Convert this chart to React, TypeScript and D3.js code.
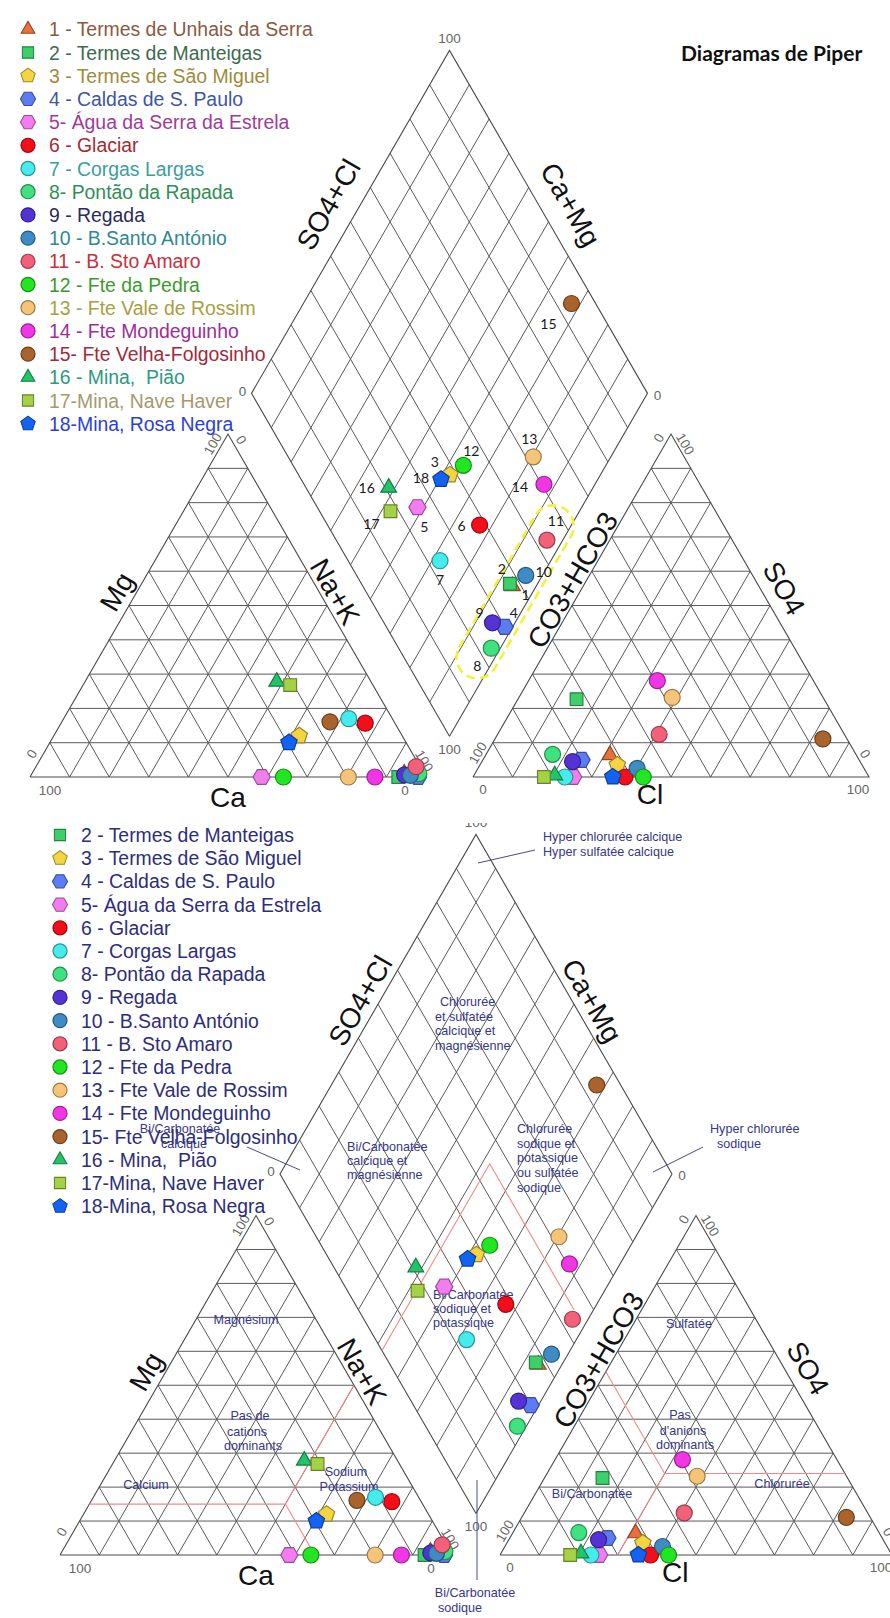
import React from "react";
import * as d3 from "d3";

// samples
const sampleNames = [
  "1 - Termes de Unhais da Serra",
  "2 - Termes de Manteigas",
  "3 - Termes de São Miguel",
  "4 - Caldas de S. Paulo",
  "5- Água da Serra da Estrela",
  "6 - Glaciar",
  "7 - Corgas Largas",
  "8- Pontão da Rapada",
  "9 - Regada",
  "10 - B.Santo António",
  "11 - B. Sto Amaro",
  "12 - Fte da Pedra",
  "13 - Fte Vale de Rossim",
  "14 - Fte Mondeguinho",
  "15- Fte Velha-Folgosinho",
  "16 - Mina,  Pião",
  "17-Mina, Nave Haver",
  "18-Mina, Rosa Negra",
];
const sampleIds = ["1", "2", "3", "4", "5", "6", "7", "8", "9", "10", "11", "12", "13", "14", "15", "16", "17", "18"];

// cations (% meq)
const cationCa = [5, 7, 26, 2, 41.5, 7.5, 11, 1.3, 5.1, 3.7, 1, 36, 19.6, 12.9, 16.2, 23.8, 20.9, 29.6];
const cationMg = [1, 0, 12, 0, 0, 15.7, 17, 1, 0.6, 0.5, 3, 0, 0, 0, 16.1, 27.8, 26.8, 10];
const cationNaK = [94, 93, 62, 98, 58.5, 76.8, 72, 97.7, 94.3, 95.8, 96, 64, 80.4, 87.1, 67.7, 48.4, 52.3, 60.4];

// anions (% meq)
const anionHCO3 = [62.2, 62.5, 61.8, 70.1, 74.7, 61.6, 76.8, 76.6, 72.6, 57.3, 46.8, 57, 38.1, 39.4, 6.1, 79.1, 82.1, 64.7];
const anionSO4 = [6.4, 22.7, 3.5, 5, 0, 0, 0, 6.6, 4.5, 2.5, 12.4, 0, 23.2, 28.1, 11.1, 0.5, 0, 0];
const anionCl = [31.4, 14.8, 34.7, 24.9, 25.3, 38.4, 23.2, 16.8, 22.9, 40.2, 40.8, 43, 38.7, 32.5, 82.8, 20.4, 17.9, 35.3];

const markerShapes = [
  "triangle", "square", "pentagon", "hexagon", "hexagon", "circle", "circle", "circle", "circle",
  "circle", "circle", "circle", "circle", "circle", "circle", "triangle", "square", "pentagon",
];
const markerFills = [
  "#e8703a", "#3ccf6a", "#f5d442", "#5b7cf2", "#f27cf0", "#f50d1a", "#45ecee", "#3ee27e", "#5433d6",
  "#3f8bc6", "#f2607a", "#22e622", "#f6c477", "#f236e6", "#a8642c", "#22c46a", "#a4d244", "#1363f2",
];
const legendColors = [
  "#8a5a40", "#3d6b50", "#9c8c3c", "#3c55a8", "#a23a98", "#a82a30", "#3a9ea0", "#2f8f55", "#2c2c5c",
  "#2e8a90", "#c8303c", "#3c9a2c", "#a8a042", "#9a2e9a", "#a02a3a", "#2a9a80", "#a89870", "#2a40d8",
];

// label offsets of the sample numbers in the upper diamond
const numberOffsets = [
  [13, 8], [-8, -15], [-15, -13], [9, -14], [7, 19], [-18, 0], [0, 19], [-14, 17], [-13, -10],
  [18, -4], [9, -20], [8, -15], [-4, -18], [-24, 2], [-23, 20], [-22, 0], [-19, 12], [-20, -2],
];
const highlighted = [1, 2, 4, 8, 9, 10, 11];

const gridTicks = d3.range(10, 100, 10);

const topLayout = { side: 396, base: 777, cationLeft: 30, anionLeft: 473, diamondLabel: [108, 47] };
const bottomLayout = { side: 392, base: 1555, cationLeft: 60, anionLeft: 500, diamondLabel: [105, 46] };

// classification boundaries on the lower diagram
const cationBounds = [
  [[15, 0], [15, 50]],
  [[15, 50], [50, 50]],
  [[15, 50], [0, 65]],
];
const anionBounds = [
  [[24, 30], [24, 76]],
  [[24, 30], [54, 0]],
  [[24, 30], [0, 30]],
];
const diamondBounds = [[[48, 0], [48, 55], [5, 55]]];

const NAVY = "#2d2d7d";
const ANNOT = "#36368c";

const annotations: [string, number, number, string][] = [
  ["Hyper chlorurée calcique", 543, 837, "start"],
  ["Hyper sulfatée calcique", 543, 852, "start"],
  ["Hyper chlorurée", 710, 1129, "start"],
  ["sodique", 717, 1144, "start"],
  ["Chlorurée", 440, 1002, "start"],
  ["et sulfatée", 435, 1016.5, "start"],
  ["calcique et", 435, 1031, "start"],
  ["magnésienne", 435, 1046, "start"],
  ["Chlorurée", 517, 1128.5, "start"],
  ["sodique et", 517, 1143.5, "start"],
  ["potassique", 517, 1158, "start"],
  ["ou sulfatée", 517, 1173, "start"],
  ["sodique", 517, 1188, "start"],
  ["Bi/Carbonatée", 347, 1147, "start"],
  ["calcique et", 347, 1161, "start"],
  ["magnésienne", 347, 1175, "start"],
  ["Bi/Carbonatée", 180, 1128.5, "middle"],
  ["calcique", 184, 1143.5, "middle"],
  ["Bi/Carbonatée", 433, 1295, "start"],
  ["sodique et", 433, 1309, "start"],
  ["potassique", 433, 1323, "start"],
  ["Bi/Carbonatée", 475, 1593, "middle"],
  ["sodique", 460, 1608, "middle"],
  ["Magnésium", 246, 1320, "middle"],
  ["Pas de", 250, 1416, "middle"],
  ["cations", 247, 1432, "middle"],
  ["dominants", 253, 1446, "middle"],
  ["Calcium", 146, 1485, "middle"],
  ["Sodium", 346, 1472, "middle"],
  ["Potassium", 349, 1487, "middle"],
  ["Sulfatée", 689, 1324, "middle"],
  ["Pas", 680, 1415, "middle"],
  ["d'anions", 683, 1431, "middle"],
  ["dominants", 685, 1445, "middle"],
  ["Chlorurée", 782, 1484, "middle"],
  ["Bi/Carbonatée", 592, 1494, "middle"],
];
const pointers = [
  [[478, 863], [535, 850]],
  [[653, 1172], [703, 1147]],
  [[247, 1147], [300, 1170]],
  [[477, 1480], [477, 1580]],
];

function polygonPath(n: number, r: number, rot: number) {
  const pts = d3.range(n).map((i) => {
    const a = rot + (i * 2 * Math.PI) / n;
    return [r * Math.cos(a), r * Math.sin(a)] as [number, number];
  });
  return d3.line()(pts) + "Z";
}

const shapePaths: Record<string, string> = {
  triangle: polygonPath(3, 9, -Math.PI / 2),
  square: polygonPath(4, 9, Math.PI / 4),
  pentagon: polygonPath(5, 8.6, -Math.PI / 2),
  hexagon: polygonPath(6, 8.6, 0),
};

function Marker({ i, x, y, s = 1 }: { i: number; x: number; y: number; s?: number }) {
  const fill = markerFills[i];
  const stroke = d3.color(fill)!.darker(1.3).formatHex();
  const shape = markerShapes[i];
  if (shape === "circle")
    return <circle cx={x} cy={y} r={8 * s} fill={fill} stroke={stroke} strokeWidth={1.2} />;
  return (
    <path
      d={shapePaths[shape]}
      transform={`translate(${x},${y}) scale(${s})`}
      fill={fill}
      stroke={stroke}
      strokeWidth={1.2}
    />
  );
}

function makePiper(l: typeof topLayout) {
  const H = (l.side * Math.sqrt(3)) / 2;
  const sx = d3.scaleLinear().domain([0, 100]).range([0, l.side]);
  const sy = d3.scaleLinear().domain([0, 100]).range([0, H]);
  const gap = l.anionLeft - l.cationLeft - l.side;
  const bx = l.cationLeft + l.side + gap / 2;
  const by = l.base - (gap / 2) * Math.sqrt(3);
  const cation = (mg: number, nak: number): [number, number] => [l.cationLeft + sx(nak + mg / 2), l.base - sy(mg)];
  const anion = (so4: number, cl: number): [number, number] => [l.anionLeft + sx(cl + so4 / 2), l.base - sy(so4)];
  const diamond = (camg: number, so4cl: number): [number, number] => [
    bx + sx(so4cl - camg) / 2,
    by - sy(camg + so4cl),
  ];
  return { H, cation, anion, diamond };
}

const line = d3.line();

function triangleGrid(f: (a: number, b: number) => [number, number]) {
  const segs: [number, number][][] = [];
  gridTicks.forEach((t) => {
    segs.push([f(t, 0), f(t, 100 - t)]);
    segs.push([f(0, t), f(100 - t, t)]);
    segs.push([f(0, 100 - t), f(100 - t, 0)]);
  });
  return segs;
}

function diamondGrid(f: (a: number, b: number) => [number, number]) {
  const segs: [number, number][][] = [];
  gridTicks.forEach((t) => {
    segs.push([f(t, 0), f(t, 100)]);
    segs.push([f(0, t), f(100, t)]);
  });
  return segs;
}

const AXIS_FONT = "'Liberation Sans', Arial, sans-serif";

function AxisLabel({ p, text, rot }: { p: [number, number]; text: string; rot: number }) {
  return (
    <text
      x={p[0]}
      y={p[1]}
      transform={`rotate(${rot},${p[0]},${p[1]})`}
      textAnchor="middle"
      dominantBaseline="central"
      fontFamily={AXIS_FONT}
      fontSize={28}
      fill="#111"
    >
      {text}
    </text>
  );
}

function Tick({ v, dx, dy, text, rot = 0 }: { v: [number, number]; dx: number; dy: number; text: string; rot?: number }) {
  const x = v[0] + dx;
  const y = v[1] + dy;
  return (
    <text
      x={x}
      y={y}
      transform={`rotate(${rot},${x},${y})`}
      textAnchor="middle"
      dominantBaseline="central"
      fontFamily={AXIS_FONT}
      fontSize={13.5}
      fill="#666"
    >
      {text}
    </text>
  );
}

function Piper({ layout, bounds }: { layout: typeof topLayout; bounds: boolean }) {
  const p = makePiper(layout);
  const grid = [
    ...triangleGrid(p.cation),
    ...triangleGrid(p.anion),
    ...diamondGrid(p.diamond),
  ];
  const outlines = [
    [p.cation(0, 0), p.cation(0, 100), p.cation(100, 0), p.cation(0, 0)],
    [p.anion(0, 0), p.anion(0, 100), p.anion(100, 0), p.anion(0, 0)],
    [p.diamond(0, 0), p.diamond(100, 0), p.diamond(100, 100), p.diamond(0, 100), p.diamond(0, 0)],
  ];
  const cL = p.cation(0, 0), cR = p.cation(0, 100), cA = p.cation(100, 0);
  const aL = p.anion(0, 0), aR = p.anion(0, 100), aA = p.anion(100, 0);
  const dB = p.diamond(0, 0), dL = p.diamond(100, 0), dT = p.diamond(100, 100), dR = p.diamond(0, 100);
  const [dOut, dAlong] = layout.diamondLabel;
  const boundColor = "#f08a8a";
  return (
    <g>
      {grid.map((s, i) => (
        <path key={i} d={line(s)!} stroke="#5a5a5a" strokeWidth={1} fill="none" />
      ))}
      {outlines.map((s, i) => (
        <path key={"o" + i} d={line(s)!} stroke="#4a4a4a" strokeWidth={1.1} fill="none" />
      ))}
      {bounds && (
        <g stroke={boundColor} strokeWidth={1.1} fill="none">
          {cationBounds.map((s, i) => (
            <path key={"cb" + i} d={line(s.map((q) => p.cation(q[0], q[1])))!} />
          ))}
          {anionBounds.map((s, i) => (
            <path key={"ab" + i} d={line(s.map((q) => p.anion(q[0], q[1])))!} />
          ))}
          {diamondBounds.map((s, i) => (
            <path key={"db" + i} d={line(s.map((q) => p.diamond(q[0], q[1])))!} />
          ))}
        </g>
      )}
      {/* tick labels */}
      <Tick v={cL} dx={2} dy={-23} text="0" rot={-60} />
      <Tick v={cL} dx={20} dy={13} text="100" />
      <Tick v={cA} dx={-15} dy={10} text="100" rot={-60} />
      <Tick v={cA} dx={13} dy={6} text="0" rot={60} />
      <Tick v={cR} dx={-2} dy={-16} text="100" rot={60} />
      <Tick v={cR} dx={-21} dy={13} text="0" />
      <Tick v={aL} dx={5} dy={-24} text="100" rot={-60} />
      <Tick v={aL} dx={10} dy={12} text="0" />
      <Tick v={aA} dx={-12} dy={4} text="0" rot={-60} />
      <Tick v={aA} dx={14} dy={10} text="100" rot={60} />
      <Tick v={aR} dx={-4} dy={-23} text="0" rot={60} />
      <Tick v={aR} dx={-11} dy={12} text="100" />
      <Tick v={dT} dx={0} dy={-12} text="100" />
      <Tick v={dL} dx={-9} dy={-2} text="0" />
      <Tick v={dR} dx={10} dy={2} text="0" />
      <Tick v={dB} dx={0} dy={13} text="100" />
      {/* axis titles */}
      <AxisLabel p={p.cation(54, -5)} text="Mg" rot={-60} />
      <AxisLabel p={p.cation(54, 50)} text="Na+K" rot={60} />
      <AxisLabel p={p.cation(-6, 53)} text="Ca" rot={0} />
      <AxisLabel p={p.anion(57.4, -3.5)} text="CO3+HCO3" rot={-60} />
      <AxisLabel p={p.anion(55, 51)} text="SO4" rot={60} />
      <AxisLabel p={p.anion(-5.2, 47.3)} text="Cl" rot={0} />
      <AxisLabel p={p.diamond(dOut, dAlong)} text="SO4+Cl" rot={-60} />
      <AxisLabel p={p.diamond(dAlong, dOut)} text="Ca+Mg" rot={60} />
    </g>
  );
}

function Points({ layout }: { layout: typeof topLayout }) {
  const p = makePiper(layout);
  return (
    <g>
      {sampleIds.map((_, i) => {
        const [x, y] = p.cation(cationMg[i], cationNaK[i]);
        return <Marker key={"c" + i} i={i} x={x} y={y} />;
      })}
      {sampleIds.map((_, i) => {
        const [x, y] = p.anion(anionSO4[i], anionCl[i]);
        return <Marker key={"a" + i} i={i} x={x} y={y} />;
      })}
      {sampleIds.map((_, i) => {
        const [x, y] = p.diamond(cationCa[i] + cationMg[i], anionSO4[i] + anionCl[i]);
        return <Marker key={"d" + i} i={i} x={x} y={y} />;
      })}
    </g>
  );
}

function Outline() {
  const p = makePiper(topLayout);
  const u = [0.5, -Math.sqrt(3) / 2];
  const v = [Math.sqrt(3) / 2, 0.5];
  const pts = highlighted.map((id) =>
    p.diamond(cationCa[id - 1] + cationMg[id - 1], anionSO4[id - 1] + anionCl[id - 1])
  );
  const pu = pts.map((q) => q[0] * u[0] + q[1] * u[1]);
  const pv = pts.map((q) => q[0] * v[0] + q[1] * v[1]);
  const [u0, u1] = d3.extent(pu) as [number, number];
  const [v0, v1] = d3.extent(pv) as [number, number];
  const uc = (u0 + u1) / 2;
  const vc = (v0 + v1) / 2;
  const cx = uc * u[0] + vc * v[0];
  const cy = uc * u[1] + vc * v[1];
  const len = u1 - u0 + 72;
  const wid = v1 - v0 + 24;
  return (
    <rect
      transform={`translate(${cx},${cy}) rotate(-60)`}
      x={-len / 2}
      y={-wid / 2}
      width={len}
      height={wid}
      rx={wid / 2}
      fill="none"
      stroke="#f2f23a"
      strokeWidth={2.6}
      strokeDasharray="9,5"
    />
  );
}

function NumberLabels() {
  const p = makePiper(topLayout);
  return (
    <g fontFamily="Lato, 'Open Sans', sans-serif" fontSize={14} fill="#1a1a1a">
      {sampleIds.map((id, i) => {
        const [x, y] = p.diamond(cationCa[i] + cationMg[i], anionSO4[i] + anionCl[i]);
        return (
          <text
            key={id}
            x={x + numberOffsets[i][0]}
            y={y + numberOffsets[i][1]}
            textAnchor="middle"
            dominantBaseline="central"
          >
            {id}
          </text>
        );
      })}
    </g>
  );
}

function Legend({ x, y, from, colored }: { x: number; y: number; from: number; colored: boolean }) {
  const rows = sampleNames.slice(from);
  return (
    <g fontFamily={AXIS_FONT} fontSize={19.4}>
      {rows.map((name, k) => {
        const i = k + from;
        const yy = y + k * 23.2;
        return (
          <g key={name}>
            <Marker i={i} x={x} y={yy} s={0.88} />
            <text
              x={x + 21}
              y={yy}
              dominantBaseline="central"
              fill={colored ? legendColors[i] : NAVY}
              style={{ whiteSpace: "pre" }}
            >
              {name}
            </text>
          </g>
        );
      })}
    </g>
  );
}

export default function App() {
  return (
    <svg
      width={890}
      height={1618}
      style={{ position: "absolute", left: 0, top: 0, background: "#fff" }}
    >
      <rect width={890} height={1618} fill="#fff" />
      {/* upper diagram */}
      <g>
        <Piper layout={topLayout} bounds={false} />
        <Outline />
        <Points layout={topLayout} />
        <NumberLabels />
        <Legend x={28} y={29.3} from={0} colored={true} />
        <text
          x={681}
          y={52}
          dominantBaseline="central"
          fontFamily="Lato, 'Open Sans', sans-serif"
          fontWeight={700}
          fontSize={21}
          fill="#111"
        >
          Diagramas de Piper
        </text>
      </g>
      {/* lower diagram */}
      <defs>
        <clipPath id="lowerClip">
          <rect x={0} y={823} width={890} height={800} />
        </clipPath>
      </defs>
      <g clipPath="url(#lowerClip)">
        <Piper layout={bottomLayout} bounds={true} />
        <g fontFamily={AXIS_FONT} fontSize={12.6} fill={ANNOT}>
          {annotations.map(([t, x, y, anchor], i) => (
            <text key={i} x={x} y={y} textAnchor={anchor} dominantBaseline="central">
              {t}
            </text>
          ))}
        </g>
        {pointers.map((s, i) => (
          <path key={i} d={line(s as [number, number][])!} stroke="#4a4a8a" strokeWidth={1} fill="none" />
        ))}
        <Legend x={60} y={835} from={1} colored={false} />
        <Points layout={bottomLayout} />
      </g>
    </svg>
  );
}
